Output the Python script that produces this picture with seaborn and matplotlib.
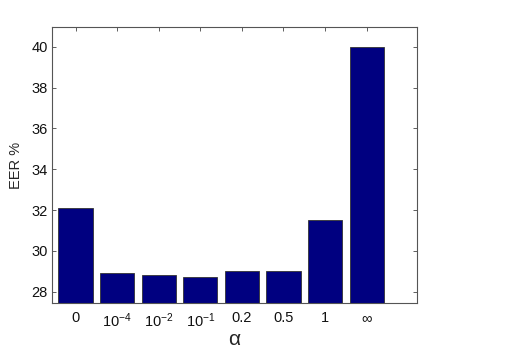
import matplotlib
matplotlib.use("Agg")
import matplotlib.pyplot as plt
import seaborn as sns
import pandas as pd

categories = ["0", "$10^{-4}$", "$10^{-2}$", "$10^{-1}$", "0.2", "0.5", "1", "$\\infty$"]
eer = [32.1, 28.9, 28.83, 28.72, 29.0, 29.0, 31.5, 40.0]
yticks = [28, 30, 32, 34, 36, 38, 40]

sns.set_theme(style="white")
plt.rcParams['font.family'] = ['Liberation Sans', 'DejaVu Sans']
plt.rcParams['mathtext.fontset'] = 'custom'
plt.rcParams['mathtext.rm'] = 'Liberation Sans'
plt.rcParams['mathtext.it'] = 'Liberation Sans'

df = pd.DataFrame({"alpha": categories, "eer": eer})

fig = plt.figure(figsize=(5.17, 3.6), dpi=100)
ax = fig.add_axes([52/517, 57/360, 365/517, 276/360])
sns.barplot(data=df, x="alpha", y="eer", order=categories, color="#000080",
            saturation=1, width=0.82, edgecolor="#333333", linewidth=0.6, ax=ax)

ax.set_xlim(-0.565, 8.21)
ax.set_ylim(27.45, 40.97)
ax.set_yticks(yticks)
ax.set_yticklabels([str(v) for v in yticks])
ax.set_xlabel("α", fontsize=15, labelpad=0)
ax.set_ylabel("EER %", fontsize=10.5, labelpad=6)
ax.tick_params(axis='both', direction='in', length=3, width=0.6, colors='#444444',
               labelcolor='#111111', labelsize=10.5, top=True, right=True,
               left=True, bottom=True)
ax.tick_params(axis='x', pad=6)
ax.tick_params(axis='y', pad=3)
for s in ax.spines.values():
    s.set_visible(True)
    s.set_color('#555555')
    s.set_linewidth(0.8)

fig.savefig("out.png", dpi=100, facecolor="white")
